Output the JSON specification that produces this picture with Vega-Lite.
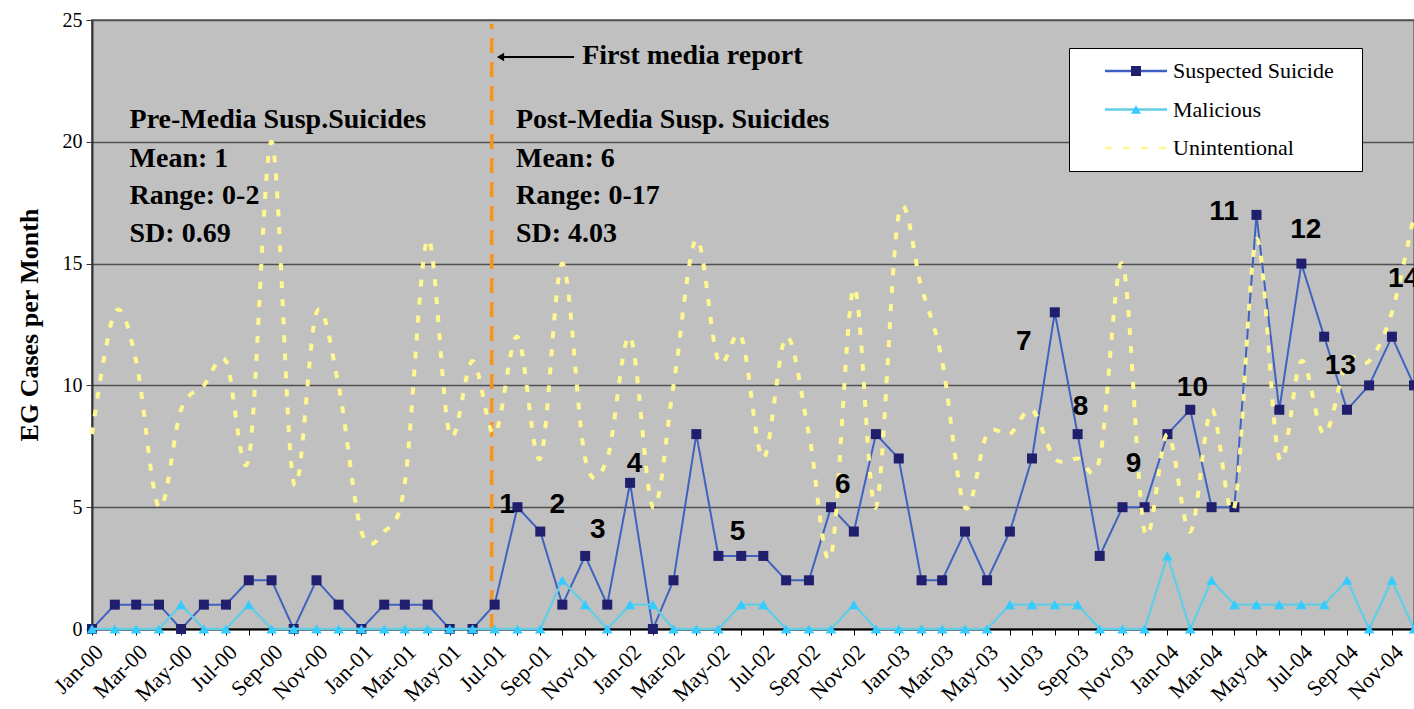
{
  "$schema": "https://vega.github.io/schema/vega-lite/v6.json",
  "width": 1322,
  "height": 609,
  "autosize": {"type": "none"},
  "padding": {"left": 92, "top": 20, "right": 0, "bottom": 80},
  "background": "white",
  "config": {
    "view": {"fill": "#C0C0C0", "stroke": "#808080", "strokeWidth": 2},
    "font": "Liberation Serif",
    "style": {"guide-label": {"font": "Liberation Serif"}},
    "legend": {"labelFont": "Liberation Serif", "labelFontSize": 22, "labelColor": "black", "labelLimit": 400}
  },
  "datasets": {
    "counts": [
      {"date": "2000-01-01T00:00", "suicide": 0, "malicious": 0, "unintentional": 8},
      {"date": "2000-02-01T00:00", "suicide": 1, "malicious": 0, "unintentional": 13},
      {"date": "2000-03-01T00:00", "suicide": 1, "malicious": 0, "unintentional": 11},
      {"date": "2000-04-01T00:00", "suicide": 1, "malicious": 0, "unintentional": 5},
      {"date": "2000-05-01T00:00", "suicide": 0, "malicious": 1, "unintentional": 9},
      {"date": "2000-06-01T00:00", "suicide": 1, "malicious": 0, "unintentional": 10},
      {"date": "2000-07-01T00:00", "suicide": 1, "malicious": 0, "unintentional": 11},
      {"date": "2000-08-01T00:00", "suicide": 2, "malicious": 1, "unintentional": 7},
      {"date": "2000-09-01T00:00", "suicide": 2, "malicious": 0, "unintentional": 20},
      {"date": "2000-10-01T00:00", "suicide": 0, "malicious": 0, "unintentional": 6},
      {"date": "2000-11-01T00:00", "suicide": 2, "malicious": 0, "unintentional": 13},
      {"date": "2000-12-01T00:00", "suicide": 1, "malicious": 0, "unintentional": 10},
      {"date": "2001-01-01T00:00", "suicide": 0, "malicious": 0, "unintentional": 4},
      {"date": "2001-02-01T00:00", "suicide": 1, "malicious": 0, "unintentional": 4},
      {"date": "2001-03-01T00:00", "suicide": 1, "malicious": 0, "unintentional": 6},
      {"date": "2001-04-01T00:00", "suicide": 1, "malicious": 0, "unintentional": 16},
      {"date": "2001-05-01T00:00", "suicide": 0, "malicious": 0, "unintentional": 8},
      {"date": "2001-06-01T00:00", "suicide": 0, "malicious": 0, "unintentional": 11},
      {"date": "2001-07-01T00:00", "suicide": 1, "malicious": 0, "unintentional": 8},
      {"date": "2001-08-01T00:00", "suicide": 5, "malicious": 0, "unintentional": 12},
      {"date": "2001-09-01T00:00", "suicide": 4, "malicious": 0, "unintentional": 7},
      {"date": "2001-10-01T00:00", "suicide": 1, "malicious": 2, "unintentional": 15},
      {"date": "2001-11-01T00:00", "suicide": 3, "malicious": 1, "unintentional": 7},
      {"date": "2001-12-01T00:00", "suicide": 1, "malicious": 0, "unintentional": 7},
      {"date": "2002-01-01T00:00", "suicide": 6, "malicious": 1, "unintentional": 12},
      {"date": "2002-02-01T00:00", "suicide": 0, "malicious": 1, "unintentional": 5},
      {"date": "2002-03-01T00:00", "suicide": 2, "malicious": 0, "unintentional": 10},
      {"date": "2002-04-01T00:00", "suicide": 8, "malicious": 0, "unintentional": 16},
      {"date": "2002-05-01T00:00", "suicide": 3, "malicious": 0, "unintentional": 11},
      {"date": "2002-06-01T00:00", "suicide": 3, "malicious": 1, "unintentional": 12},
      {"date": "2002-07-01T00:00", "suicide": 3, "malicious": 1, "unintentional": 7},
      {"date": "2002-08-01T00:00", "suicide": 2, "malicious": 0, "unintentional": 12},
      {"date": "2002-09-01T00:00", "suicide": 2, "malicious": 0, "unintentional": 8},
      {"date": "2002-10-01T00:00", "suicide": 5, "malicious": 0, "unintentional": 3},
      {"date": "2002-11-01T00:00", "suicide": 4, "malicious": 1, "unintentional": 14},
      {"date": "2002-12-01T00:00", "suicide": 8, "malicious": 0, "unintentional": 5},
      {"date": "2003-01-01T00:00", "suicide": 7, "malicious": 0, "unintentional": 17},
      {"date": "2003-02-01T00:00", "suicide": 2, "malicious": 0, "unintentional": 14},
      {"date": "2003-03-01T00:00", "suicide": 2, "malicious": 0, "unintentional": 11},
      {"date": "2003-04-01T00:00", "suicide": 4, "malicious": 0, "unintentional": 5},
      {"date": "2003-05-01T00:00", "suicide": 2, "malicious": 0, "unintentional": 8},
      {"date": "2003-06-01T00:00", "suicide": 4, "malicious": 1, "unintentional": 8},
      {"date": "2003-07-01T00:00", "suicide": 7, "malicious": 1, "unintentional": 9},
      {"date": "2003-08-01T00:00", "suicide": 13, "malicious": 1, "unintentional": 7},
      {"date": "2003-09-01T00:00", "suicide": 8, "malicious": 1, "unintentional": 7},
      {"date": "2003-10-01T00:00", "suicide": 3, "malicious": 0, "unintentional": 7},
      {"date": "2003-11-01T00:00", "suicide": 5, "malicious": 0, "unintentional": 15},
      {"date": "2003-12-01T00:00", "suicide": 5, "malicious": 0, "unintentional": 4},
      {"date": "2004-01-01T00:00", "suicide": 8, "malicious": 3, "unintentional": 8},
      {"date": "2004-02-01T00:00", "suicide": 9, "malicious": 0, "unintentional": 4},
      {"date": "2004-03-01T00:00", "suicide": 5, "malicious": 2, "unintentional": 9},
      {"date": "2004-04-01T00:00", "suicide": 5, "malicious": 1, "unintentional": 5},
      {"date": "2004-05-01T00:00", "suicide": 17, "malicious": 1, "unintentional": 16},
      {"date": "2004-06-01T00:00", "suicide": 9, "malicious": 1, "unintentional": 7},
      {"date": "2004-07-01T00:00", "suicide": 15, "malicious": 1, "unintentional": 11},
      {"date": "2004-08-01T00:00", "suicide": 12, "malicious": 1, "unintentional": 8},
      {"date": "2004-09-01T00:00", "suicide": 9, "malicious": 2, "unintentional": 11},
      {"date": "2004-10-01T00:00", "suicide": 10, "malicious": 0, "unintentional": 11},
      {"date": "2004-11-01T00:00", "suicide": 12, "malicious": 2, "unintentional": 13},
      {"date": "2004-12-01T00:00", "suicide": 10, "malicious": 0, "unintentional": 17}
    ],
    "numbers": [
      {"date": "2001-07-18T00:00", "value": 4.76, "label": "1"},
      {"date": "2001-09-24T00:00", "value": 4.76, "label": "2"},
      {"date": "2001-11-18T00:00", "value": 3.74, "label": "3"},
      {"date": "2002-01-07T00:00", "value": 6.45, "label": "4"},
      {"date": "2002-05-27T00:00", "value": 3.65, "label": "5"},
      {"date": "2002-10-17T00:00", "value": 5.58, "label": "6"},
      {"date": "2003-06-20T00:00", "value": 11.45, "label": "7"},
      {"date": "2003-09-05T00:00", "value": 8.78, "label": "8"},
      {"date": "2003-11-16T00:00", "value": 6.45, "label": "9"},
      {"date": "2004-02-04T00:00", "value": 9.56, "label": "10"},
      {"date": "2004-03-18T00:00", "value": 16.79, "label": "11"},
      {"date": "2004-07-07T00:00", "value": 16.05, "label": "12"},
      {"date": "2004-08-23T00:00", "value": 10.47, "label": "13"},
      {"date": "2004-11-17T00:00", "value": 14.04, "label": "14"}
    ],
    "notes": [
      {"date": "2000-02-21T00:00", "value": 20.57, "label": "Pre-Media Susp.Suicides"},
      {"date": "2000-02-21T00:00", "value": 18.97, "label": "Mean: 1"},
      {"date": "2000-02-21T00:00", "value": 17.45, "label": "Range: 0-2"},
      {"date": "2000-02-21T00:00", "value": 15.89, "label": "SD: 0.69"},
      {"date": "2001-07-30T00:00", "value": 20.57, "label": "Post-Media Susp. Suicides"},
      {"date": "2001-07-30T00:00", "value": 18.97, "label": "Mean: 6"},
      {"date": "2001-07-30T00:00", "value": 17.45, "label": "Range: 0-17"},
      {"date": "2001-07-30T00:00", "value": 15.89, "label": "SD: 4.03"},
      {"date": "2001-10-28T00:00", "value": 23.19, "label": "First media report"}
    ],
    "media": [{"date": "2001-06-27T00:00"}],
    "arrow": [{"date": "2001-07-09T00:00", "end": "2001-10-17T00:00", "value": 23.48}]
  },
  "layer": [
    {
      "data": {"name": "media"},
      "mark": {"type": "rule", "color": "#F7941D", "strokeWidth": 3.5, "strokeDash": [15, 9]},
      "encoding": {
        "x": {"field": "date", "type": "temporal", "title": null},
        "y": {"datum": 0, "type": "quantitative", "title": "EG Cases per Month"},
        "y2": {"datum": 24.85}
      }
    },
    {
      "data": {"name": "counts"},
      "mark": {"type": "line", "strokeWidth": 2},
      "encoding": {
        "x": {
          "field": "date", "type": "temporal", "title": null,
          "scale": {"domain": [{"year": 2000, "month": 1, "date": 1}, {"year": 2004, "month": 12, "date": 1}], "nice": false},
          "axis": {
            "title": null,
            "tickCount": {"interval": "month", "step": 1},
            "labelExpr": "month(datum.value) % 2 == 0 ? timeFormat(datum.value, '%b-%y') : ''",
            "labelAngle": -45, "labelAlign": "right", "labelBaseline": "top",
            "labelFont": "Liberation Serif", "labelFontSize": 22, "labelColor": "black",
            "labelPadding": 6, "labelOverlap": false, "labelFlush": false, "labelBound": false,
            "tickSize": 6, "tickColor": "black", "domainColor": "black", "domainWidth": 2, "grid": false
          }
        },
        "y": {
          "field": "suicide", "type": "quantitative", "title": "EG Cases per Month",
          "scale": {"domain": [0, 25], "nice": false},
          "axis": {
            "title": "EG Cases per Month", "titleFont": "Liberation Serif", "titleFontSize": 26,
            "titleFontWeight": "bold", "titleColor": "black", "titlePadding": 20,
            "values": [0, 5, 10, 15, 20, 25],
            "labelFont": "Liberation Serif", "labelFontSize": 20, "labelColor": "black", "labelPadding": 4,
            "labelFlush": false, "labelBound": false,
            "tickSize": 6, "tickColor": "#333333", "domainColor": "#333333", "domainWidth": 2,
            "grid": true, "gridColor": "#505050", "gridWidth": 1.5
          }
        },
        "color": {
          "datum": "Suspected Suicide", "type": "nominal",
          "scale": {"domain": ["Suspected Suicide", "Malicious", "Unintentional"], "range": ["#3F62C0", "#62CDE6", "#FFF78F"]},
          "legend": {"orient": "none", "legendX": 977, "legendY": 28, "title": "x", "titleOrient": "right", "titleOpacity": 0, "titleFontSize": 4, "titlePadding": 14, "fillColor": "white", "strokeColor": "black", "padding": 12, "symbolType": "M-3.45,0H3.45", "symbolSize": 324, "symbolStrokeWidth": 2.5, "symbolOffset": 44, "labelOffset": 26, "labelFont": "Liberation Serif", "labelFontSize": 22, "labelColor": "black", "labelLimit": 400, "rowPadding": 16.5, "encode": {"labels": {"update": {"font": {"value": "Liberation Serif"}}}}}
        },
        "strokeDash": {
          "datum": "Suspected Suicide", "type": "nominal",
          "scale": {"domain": ["Suspected Suicide", "Malicious", "Unintentional"], "range": [[1, 0], [1, 0], [7, 11]]},
          "legend": {"orient": "none", "legendX": 977, "legendY": 28, "title": "x", "titleOrient": "right", "titleOpacity": 0, "titleFontSize": 4, "titlePadding": 14, "fillColor": "white", "strokeColor": "black", "padding": 12, "symbolType": "M-3.45,0H3.45", "symbolSize": 324, "symbolStrokeWidth": 2.5, "symbolOffset": 44, "labelOffset": 26, "labelFont": "Liberation Serif", "labelFontSize": 22, "labelColor": "black", "labelLimit": 400, "rowPadding": 16.5, "encode": {"labels": {"update": {"font": {"value": "Liberation Serif"}}}}}
        }
      }
    },
    {
      "data": {"name": "counts"},
      "mark": {"type": "point", "filled": true, "size": 100, "opacity": 1, "strokeWidth": 0},
      "encoding": {
        "x": {"field": "date", "type": "temporal", "title": null},
        "y": {"field": "suicide", "type": "quantitative", "title": "EG Cases per Month"},
        "fill": {
          "datum": "Suspected Suicide", "type": "nominal",
          "scale": {"domain": ["Suspected Suicide", "Malicious"], "range": ["#1F1F6E", "#33CCFF"]},
          "legend": {"orient": "none", "legendX": 977, "legendY": 28, "title": null, "padding": 12, "symbolSize": 100, "symbolStrokeWidth": 0, "symbolOffset": 44, "labelOffset": 26, "labelFont": "Liberation Serif", "labelFontSize": 22, "labelOpacity": 0, "rowPadding": 16.5}
        },
        "shape": {
          "datum": "Suspected Suicide", "type": "nominal",
          "scale": {"domain": ["Suspected Suicide", "Malicious"], "range": ["square", "triangle-up"]},
          "legend": {"orient": "none", "legendX": 977, "legendY": 28, "title": null, "padding": 12, "symbolSize": 100, "symbolStrokeWidth": 0, "symbolOffset": 44, "labelOffset": 26, "labelFont": "Liberation Serif", "labelFontSize": 22, "labelOpacity": 0, "rowPadding": 16.5}
        }
      }
    },
    {
      "data": {"name": "counts"},
      "mark": {"type": "line", "strokeWidth": 2.3},
      "encoding": {
        "x": {"field": "date", "type": "temporal", "title": null},
        "y": {"field": "malicious", "type": "quantitative", "title": "EG Cases per Month"},
        "color": {"datum": "Malicious", "type": "nominal"},
        "strokeDash": {"datum": "Malicious", "type": "nominal"}
      }
    },
    {
      "data": {"name": "counts"},
      "mark": {"type": "point", "filled": true, "size": 110, "opacity": 1, "strokeWidth": 0},
      "encoding": {
        "x": {"field": "date", "type": "temporal", "title": null},
        "y": {"field": "malicious", "type": "quantitative", "title": "EG Cases per Month"},
        "fill": {"datum": "Malicious", "type": "nominal"},
        "shape": {"datum": "Malicious", "type": "nominal"}
      }
    },
    {
      "data": {"name": "counts"},
      "mark": {"type": "line", "strokeWidth": 4, "interpolate": "cardinal"},
      "encoding": {
        "x": {"field": "date", "type": "temporal", "title": null},
        "y": {"field": "unintentional", "type": "quantitative", "title": "EG Cases per Month"},
        "color": {"datum": "Unintentional", "type": "nominal"},
        "strokeDash": {"datum": "Unintentional", "type": "nominal"}
      }
    },
    {
      "data": {"name": "numbers"},
      "mark": {"type": "text", "font": "Liberation Sans", "fontWeight": "bold", "fontSize": 28, "align": "center", "baseline": "alphabetic", "color": "black"},
      "encoding": {
        "x": {"field": "date", "type": "temporal", "title": null},
        "y": {"field": "value", "type": "quantitative", "title": "EG Cases per Month"},
        "text": {"field": "label"}
      }
    },
    {
      "data": {"name": "notes"},
      "mark": {"type": "text", "font": "Liberation Serif", "fontWeight": "bold", "fontSize": 28, "align": "left", "baseline": "alphabetic", "color": "black"},
      "encoding": {
        "x": {"field": "date", "type": "temporal", "title": null},
        "y": {"field": "value", "type": "quantitative", "title": "EG Cases per Month"},
        "text": {"field": "label"}
      }
    },
    {
      "data": {"name": "arrow"},
      "mark": {"type": "rule", "color": "black", "strokeWidth": 2},
      "encoding": {
        "x": {"field": "date", "type": "temporal", "title": null},
        "x2": {"field": "end"},
        "y": {"field": "value", "type": "quantitative", "title": "EG Cases per Month"}
      }
    },
    {
      "data": {"name": "arrow"},
      "mark": {"type": "point", "shape": "triangle-left", "filled": true, "color": "black", "size": 70, "opacity": 1},
      "encoding": {
        "x": {"field": "date", "type": "temporal", "title": null},
        "y": {"field": "value", "type": "quantitative", "title": "EG Cases per Month"}
      }
    }
  ]
}
